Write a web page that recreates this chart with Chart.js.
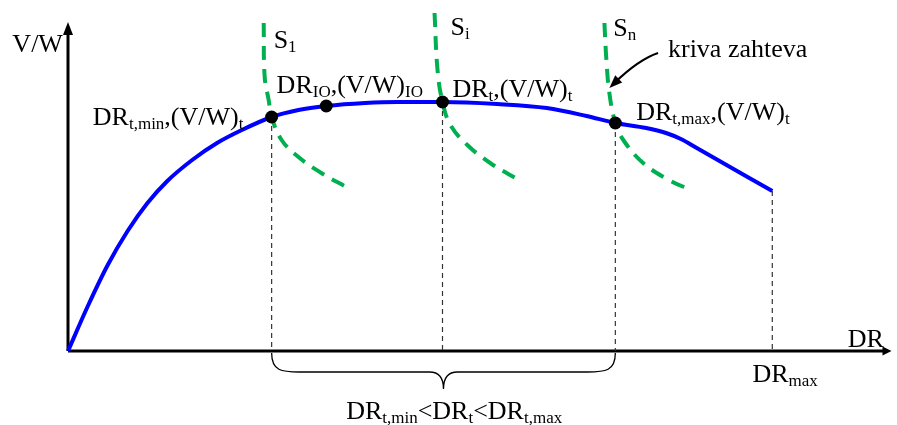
<!DOCTYPE html>
<html>
<head>
<meta charset="utf-8">
<script src="https://cdn.jsdelivr.net/npm/chart.js@4.4.0/dist/chart.umd.min.js"></script>
<style>
  html,body{margin:0;padding:0;background:#fff}
  #wrap{width:897px;height:425px}
</style>
</head>
<body>
<div id="wrap"><canvas id="chart" width="897" height="425"></canvas></div>
<script>
// schematic units: DR along x, V/W along y (origin at the axes corner)
const curveDR = [0,20,40,60,80,100,125,150,175,205,232,260,299,332,377,432,482,522,551,582,602,617,633,709];
const curveVW = [0,45,86,120,148,170,191,208,221,234,241,245,248,249,249,247,243,235,228,223,218,212,203,160];

// required-performance curves S1, Si, Sn
const s1DR = [197,198,202,205,215,232,255,282];
const s1VW = [328,274,251,234,211,194,178,163];
const siDR = [369,372,377,385,402,425,454];
const siVW = [338,281,249,226,206,188,171];
const snDR = [540,542,545,551,559,579,605,627];
const snVW = [328,291,258,228,211,188,171,161];

// marked operating points: DRt,min  DRIO  DRt  DRt,max
const pointDR = [205,260,377,551];
const pointVW = [234,245,249,228];

// dashed drop lines: DRt,min  DRt  DRt,max  DRmax
const dropDR = [205,377,551,709];
const dropVW = [234,249,228,160];

const xMax = 828, yMax = 330;

const xy = (xs, ys) => xs.map((x,i) => ({x, y:ys[i]}));
const drops = dropDR.map((x,i) => [{x, y:dropVW[i]}, {x, y:0}]);

const FONT = '"Liberation Serif","Times New Roman",serif';
const GREEN = '#00b050', BLUE = '#0000ff';

// label text: [text, isSubscript] pieces, anchored at data coords
const labels = [
  {at:[-56,299], parts:[['V/W']]},
  {at:[207,303], parts:[['S'],['1',1]]},
  {at:[385,316], parts:[['S'],['i',1]]},
  {at:[549,315], parts:[['S'],['n',1]]},
  {at:[604,294], parts:[['kriva zahteva']]},
  {at:[25,226],  parts:[['DR'],['t,min',1],[',(V/W)'],['t',1]]},
  {at:[210,258], parts:[['DR'],['IO',1],[',(V/W)'],['IO',1]]},
  {at:[387,254], parts:[['DR'],['t',1],[',(V/W)'],['t',1]]},
  {at:[572,231], parts:[['DR'],['t,max',1],[',(V/W)'],['t',1]]},
  {at:[785,4],   parts:[['DR']]},
  {at:[689,-31], parts:[['DR'],['max',1]]},
  {at:[280,-68], parts:[['DR'],['t,min',1],['<DR'],['t',1],['<DR'],['t,max',1]]}
];

function drawRich(ctx, parts, x, y) {
  for (const [t, sub] of parts) {
    ctx.font = (sub ? '17px ' : '26px ') + FONT;
    ctx.fillText(t, x, y + (sub ? 4 : 0));
    x += ctx.measureText(t).width;
  }
}

function arrowHead(ctx, tx, ty, dx, dy, len, half) {
  const l = Math.hypot(dx, dy); dx /= l; dy /= l;
  ctx.beginPath();
  ctx.moveTo(tx, ty);
  ctx.lineTo(tx - dx*len - dy*half, ty - dy*len + dx*half);
  ctx.lineTo(tx - dx*len + dy*half, ty - dy*len - dx*half);
  ctx.closePath(); ctx.fill();
}

const decor = {
  id:'decor',
  beforeDatasetsDraw(chart) {
    const {ctx, scales:{x, y}} = chart;
    const x0 = x.getPixelForValue(0), y0 = y.getPixelForValue(0);
    const xe = x.getPixelForValue(xMax), ye = y.getPixelForValue(yMax);
    ctx.save();
    ctx.strokeStyle = '#000'; ctx.fillStyle = '#000'; ctx.lineWidth = 3;
    ctx.beginPath();
    ctx.moveTo(x0, y0); ctx.lineTo(x0, ye + 8);
    ctx.moveTo(x0, y0); ctx.lineTo(xe - 6, y0);
    ctx.stroke();
    arrowHead(ctx, x0, ye + 1, 0, -1, 13, 5);
    arrowHead(ctx, xe + 1, y0, 1, 0, 9, 4.5);
    ctx.restore();
  },
  afterDraw(chart) {
    const {ctx, scales:{x, y}} = chart;
    const px = v => x.getPixelForValue(v), py = v => y.getPixelForValue(v);
    ctx.save();
    ctx.fillStyle = '#000';
    ctx.textBaseline = 'alphabetic';
    labels.forEach(l => drawRich(ctx, l.parts, px(l.at[0]), py(l.at[1])));

    // brace under the axis between DRt,min and DRt,max
    const a = px(pointDR[0]), b = px(pointDR[3]), m = (a + b) / 2, top = py(0) + 2;
    ctx.strokeStyle = '#000'; ctx.lineWidth = 1.3;
    ctx.beginPath();
    ctx.moveTo(a, top);
    ctx.bezierCurveTo(a, top + 18, a + 10, top + 19, a + 28, top + 19);
    ctx.lineTo(m - 14, top + 19);
    ctx.bezierCurveTo(m - 4, top + 19, m, top + 26, m, top + 36);
    ctx.bezierCurveTo(m, top + 26, m + 4, top + 19, m + 14, top + 19);
    ctx.lineTo(b - 28, top + 19);
    ctx.bezierCurveTo(b - 10, top + 19, b, top + 18, b, top);
    ctx.stroke();

    // pointer from "kriva zahteva" to Sn
    const p0 = [px(594), py(298)], c = [px(574.5), py(291.5)], p2 = [px(545), py(263)];
    ctx.lineWidth = 2.2;
    ctx.beginPath();
    ctx.moveTo(p0[0], p0[1]);
    ctx.quadraticCurveTo(c[0], c[1], p2[0] + 5, p2[1] - 5);
    ctx.stroke();
    arrowHead(ctx, p2[0], p2[1], p2[0] - c[0], p2[1] - c[1], 13, 5);
    ctx.restore();
  }
};

const greenSet = (data) => ({
  data, showLine:true, borderColor:GREEN, borderWidth:4, borderDash:[14,9],
  pointRadius:0, tension:0.4, clip:false, order:2
});

new Chart(document.getElementById('chart'), {
  type:'scatter',
  data:{
    datasets:[
      {data:xy(pointDR, pointVW), pointRadius:6.5, pointBackgroundColor:'#000',
       pointBorderWidth:0, showLine:false, order:0},
      {data:xy(curveDR, curveVW), showLine:true, borderColor:BLUE, borderWidth:4,
       pointRadius:0, cubicInterpolationMode:'monotone', clip:false, order:1},
      greenSet(xy(s1DR, s1VW)),
      greenSet(xy(siDR, siVW)),
      greenSet(xy(snDR, snVW)),
      ...drops.map(d => ({data:d, showLine:true, borderColor:'#333', borderWidth:1.2,
        borderDash:[5,4], pointRadius:0, order:3}))
    ]
  },
  options:{
    responsive:false,
    animation:false,
    layout:{padding:{left:68, right:1, top:21, bottom:74}},
    scales:{
      x:{type:'linear', min:0, max:xMax, display:false},
      y:{type:'linear', min:0, max:yMax, display:false}
    },
    plugins:{legend:{display:false}, tooltip:{enabled:false}}
  },
  plugins:[decor]
});
</script>
</body>
</html>
